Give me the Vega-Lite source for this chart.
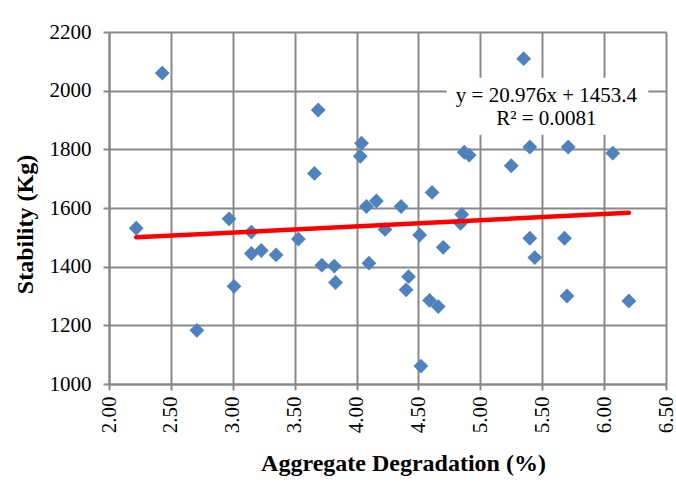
{
  "$schema": "https://vega.github.io/schema/vega-lite/v6.json",
  "width": 557,
  "height": 352,
  "autosize": {"type": "none"},
  "padding": {"left": 109, "top": 32, "right": 10, "bottom": 98},
  "background": "white",
  "config": {
    "view": {"stroke": null},
    "font": "Liberation Serif",
    "axis": {
      "gridColor": "#898989",
      "gridWidth": 2,
      "gridOpacity": 1,
      "domainColor": "#898989",
      "domainWidth": 2,
      "tickColor": "#898989",
      "tickWidth": 2,
      "tickSize": 6,
      "labelFont": "Liberation Serif",
      "labelFontSize": 21,
      "labelColor": "#000000",
      "titleFont": "Liberation Serif",
      "titleFontSize": 24,
      "titleFontWeight": "bold",
      "titleColor": "#000000"
    }
  },
  "datasets": {
    "samples": [
      {"degradation": 2.22, "stability": 1531},
      {"degradation": 2.43, "stability": 2060},
      {"degradation": 2.71, "stability": 1183},
      {"degradation": 2.97, "stability": 1563},
      {"degradation": 3.01, "stability": 1333},
      {"degradation": 3.15, "stability": 1518},
      {"degradation": 3.15, "stability": 1445},
      {"degradation": 3.23, "stability": 1455},
      {"degradation": 3.35, "stability": 1440},
      {"degradation": 3.53, "stability": 1494},
      {"degradation": 3.66, "stability": 1718},
      {"degradation": 3.69, "stability": 1934},
      {"degradation": 3.72, "stability": 1405},
      {"degradation": 3.82, "stability": 1402},
      {"degradation": 3.83, "stability": 1346},
      {"degradation": 4.03, "stability": 1776},
      {"degradation": 4.04, "stability": 1821},
      {"degradation": 4.08, "stability": 1605},
      {"degradation": 4.10, "stability": 1412},
      {"degradation": 4.16, "stability": 1624},
      {"degradation": 4.23, "stability": 1527},
      {"degradation": 4.36, "stability": 1605},
      {"degradation": 4.40, "stability": 1321},
      {"degradation": 4.42, "stability": 1366},
      {"degradation": 4.51, "stability": 1508},
      {"degradation": 4.52, "stability": 1061},
      {"degradation": 4.59, "stability": 1285},
      {"degradation": 4.61, "stability": 1653},
      {"degradation": 4.66, "stability": 1264},
      {"degradation": 4.70, "stability": 1466},
      {"degradation": 4.84, "stability": 1548},
      {"degradation": 4.85, "stability": 1578},
      {"degradation": 4.87, "stability": 1790},
      {"degradation": 4.91, "stability": 1780},
      {"degradation": 5.25, "stability": 1744},
      {"degradation": 5.35, "stability": 2109},
      {"degradation": 5.40, "stability": 1808},
      {"degradation": 5.40, "stability": 1497},
      {"degradation": 5.44, "stability": 1431},
      {"degradation": 5.68, "stability": 1497},
      {"degradation": 5.70, "stability": 1300},
      {"degradation": 5.71, "stability": 1808},
      {"degradation": 6.07, "stability": 1787},
      {"degradation": 6.20, "stability": 1283}
    ],
    "trend": [
      {"degradation": 2.22, "stability": 1499.97},
      {"degradation": 6.20, "stability": 1583.45}
    ],
    "fit": [
      {"line1": "y = 20.976x + 1453.4", "line2": "R² = 0.0081"}
    ]
  },
  "layer": [
    {
      "data": {"name": "samples"},
      "mark": {"type": "point", "shape": "diamond", "filled": true, "size": 220, "color": "#4F81BD", "opacity": 1},
      "encoding": {
        "x": {
          "field": "degradation",
          "type": "quantitative",
          "scale": {"domain": [2, 6.5], "nice": false, "zero": false},
          "axis": {
            "title": "Aggregate Degradation (%)",
            "values": [2, 2.5, 3, 3.5, 4, 4.5, 5, 5.5, 6, 6.5],
            "format": ".2f",
            "labelAngle": 270,
            "labelPadding": 6,
            "titleX": 294,
            "titleY": 86.5,
            "titleBaseline": "alphabetic"
          }
        },
        "y": {
          "field": "stability",
          "type": "quantitative",
          "scale": {"domain": [1000, 2200], "nice": false, "zero": false},
          "axis": {
            "title": "Stability (Kg)",
            "values": [1000, 1200, 1400, 1600, 1800, 2000, 2200],
            "format": "d",
            "labelPadding": 12,
            "titleX": -76.5,
            "titleY": 192,
            "titleAngle": 270,
            "titleAlign": "center",
            "titleBaseline": "alphabetic"
          }
        }
      }
    },
    {
      "data": {"name": "trend"},
      "mark": {"type": "line", "color": "#FF0000", "strokeWidth": 4.5, "strokeCap": "round"},
      "encoding": {
        "x": {"field": "degradation", "type": "quantitative"},
        "y": {"field": "stability", "type": "quantitative"}
      }
    },
    {
      "data": {"name": "fit"},
      "mark": {"type": "rect", "fill": "white", "stroke": null},
      "encoding": {
        "x": {"datum": 4.728, "type": "quantitative"},
        "x2": {"datum": 6.357},
        "y": {"datum": 2044, "type": "quantitative"},
        "y2": {"datum": 1850}
      }
    },
    {
      "data": {"name": "fit"},
      "mark": {"type": "text", "font": "Liberation Serif", "fontSize": 21, "color": "#000000", "align": "center", "baseline": "alphabetic"},
      "encoding": {
        "x": {"datum": 5.534, "type": "quantitative"},
        "y": {"datum": 1963, "type": "quantitative"},
        "text": {"field": "line1", "type": "nominal"}
      }
    },
    {
      "data": {"name": "fit"},
      "mark": {"type": "text", "font": "Liberation Serif", "fontSize": 21, "color": "#000000", "align": "center", "baseline": "alphabetic"},
      "encoding": {
        "x": {"datum": 5.534, "type": "quantitative"},
        "y": {"datum": 1884, "type": "quantitative"},
        "text": {"field": "line2", "type": "nominal"}
      }
    }
  ]
}
